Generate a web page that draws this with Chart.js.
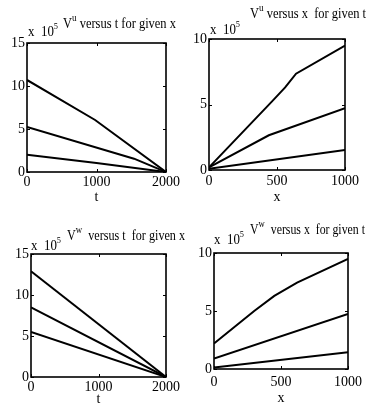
<!DOCTYPE html>
<html>
<head>
<meta charset="utf-8">
<script src="https://cdn.jsdelivr.net/npm/chart.js"></script>
<style>
  body { margin: 0; background: #fff; width: 367px; height: 412px; position: relative; overflow: hidden; font-family: "Liberation Serif", serif; }
  canvas { position: absolute; }
  .lbl { position: absolute; white-space: nowrap; color: #000; line-height: 1; transform-origin: 0 0; }
  .ttl { font-size: 15px; }
  .mul { font-size: 14px; }
  sup { font-size: 11px; vertical-align: 0; position: relative; top: -7px; }
  .mul sup { font-size: 9px; top: -7px; }
</style>
</head>
<body>
<canvas id="c1"></canvas>
<canvas id="c2"></canvas>
<canvas id="c3"></canvas>
<canvas id="c4"></canvas>

<div class="lbl ttl" data-w="113" style="left:63px;top:16px">V<sup>u</sup> versus t for given x</div>
<div class="lbl mul" data-w="30" style="left:28px;top:25px">x&nbsp; 10<sup>5</sup></div>
<div class="lbl ttl" data-w="116" style="left:250px;top:6px">V<sup>u</sup> versus x&nbsp; for given t</div>
<div class="lbl mul" data-w="30" style="left:210px;top:23px">x&nbsp; 10<sup>5</sup></div>
<div class="lbl ttl" data-w="118" style="left:67px;top:228px">V<sup>w</sup>&nbsp; versus t&nbsp; for given x</div>
<div class="lbl mul" data-w="30" style="left:31px;top:239px">x&nbsp; 10<sup>5</sup></div>
<div class="lbl ttl" data-w="115" style="left:250px;top:222px">V<sup>w</sup>&nbsp; versus x&nbsp; for given t</div>
<div class="lbl mul" data-w="30" style="left:214px;top:233px">x&nbsp; 10<sup>5</sup></div>

<script>
// V^u versus t for given x  (values x 10^5)
const uT_t1 = [0, 980, 2000];
const uT_v1 = [10.7, 6.05, 0];
const uT_t2 = [0, 1540, 2000];
const uT_v2 = [5.25, 1.55, 0];
const uT_t3 = [0, 1000, 2000];
const uT_v3 = [2.0, 1.05, 0];

// V^u versus x for given t
const uX_x1 = [0, 460, 560, 640, 1000];
const uX_v1 = [0.2, 5.2, 6.3, 7.35, 9.5];
const uX_x2 = [0, 440, 1000];
const uX_v2 = [0.2, 2.65, 4.72];
const uX_x3 = [0, 1000];
const uX_v3 = [0.1, 1.52];

// V^w versus t for given x
const wT_t = [0, 2000];
const wT_v1 = [12.9, 0];
const wT_v2 = [8.5, 0];
const wT_v3 = [5.5, 0];

// V^w versus x for given t
const wX_x1 = [0, 150, 300, 450, 620, 1000];
const wX_v1 = [2.2, 3.6, 5.0, 6.3, 7.45, 9.5];
const wX_x2 = [0, 1000];
const wX_v2 = [0.9, 4.75];
const wX_x3 = [0, 1000];
const wX_v3 = [0.12, 1.45];

// tick values
const tTicks = [0, 1000, 2000];
const xTicks = [0, 500, 1000];
const y15Ticks = [0, 5, 10, 15];
const y10Ticks = [0, 5, 10];

const pts = (xs, ys) => xs.map((v, i) => ({ x: v, y: ys[i] }));

const frame = {
  id: "frame",
  afterDatasetsDraw(chart) {
    const { ctx, chartArea: a, scales: { x, y } } = chart;
    ctx.save();
    ctx.strokeStyle = "#000";
    ctx.lineWidth = 1;
    ctx.beginPath();
    x.ticks.forEach(t => {
      const px = Math.round(x.getPixelForValue(t.value)) + 0.5;
      ctx.moveTo(px, a.bottom); ctx.lineTo(px, a.bottom - 3);
      ctx.moveTo(px, a.top); ctx.lineTo(px, a.top + 3);
    });
    y.ticks.forEach(t => {
      const py = Math.round(y.getPixelForValue(t.value)) + 0.5;
      ctx.moveTo(a.left, py); ctx.lineTo(a.left + 3, py);
      ctx.moveTo(a.right, py); ctx.lineTo(a.right - 3, py);
    });
    ctx.stroke();
    ctx.lineWidth = 1.6;
    ctx.strokeRect(a.left, a.top, a.right - a.left, a.bottom - a.top);
    ctx.restore();
  }
};

const tickFont = { family: "Liberation Serif", size: 14 };

function panel(id, box, area, opt) {
  const cv = document.getElementById(id);
  cv.width = box.w; cv.height = box.h;
  cv.style.left = box.l + "px"; cv.style.top = box.t + "px";
  const YW = opt.yw, XH = opt.xh;
  new Chart(cv, {
    type: "line",
    data: {
      datasets: opt.series.map(s => ({
        data: s,
        borderColor: "#000",
        borderWidth: 2,
        pointRadius: 0,
        fill: false,
        tension: 0
      }))
    },
    options: {
      responsive: false,
      animation: false,
      devicePixelRatio: 1,
      layout: {
        padding: {
          left: area.l - box.l - YW,
          top: area.t - box.t,
          right: box.l + box.w - area.r,
          bottom: box.t + box.h - area.b - XH
        }
      },
      plugins: { legend: { display: false }, tooltip: { enabled: false } },
      scales: {
        x: {
          type: "linear",
          min: 0, max: opt.xTicks[opt.xTicks.length - 1],
          afterFit: s => { s.height = XH; },
          afterBuildTicks: s => { s.ticks = opt.xTicks.map(v => ({ value: v })); },
          grid: { display: false, drawTicks: false },
          border: { display: false },
          ticks: { color: "#000", padding: opt.xpad, maxRotation: 0, font: tickFont, callback: v => String(v) },
          title: {
            display: true, text: opt.xTitle, color: "#000",
            padding: { top: 0, bottom: XH - 8.4 - opt.titleOff },
            font: { family: "Liberation Serif", size: 14 }
          }
        },
        y: {
          type: "linear",
          min: 0, max: opt.yTicks[opt.yTicks.length - 1],
          afterFit: s => { s.width = YW; },
          afterBuildTicks: s => { s.ticks = opt.yTicks.map(v => ({ value: v })); },
          grid: { display: false, drawTicks: false },
          border: { display: false },
          ticks: { color: "#000", padding: 2, font: tickFont, callback: v => String(v) }
        }
      }
    },
    plugins: [frame]
  });
}

panel("c1", { l: 0, t: 20, w: 185, h: 190 }, { l: 27, t: 43, r: 166, b: 172 }, {
  yw: 27, xh: 34, xpad: 2, titleOff: 25, xTitle: "t",
  xTicks: tTicks, yTicks: y15Ticks,
  series: [pts(uT_t1, uT_v1), pts(uT_t2, uT_v2), pts(uT_t3, uT_v3)]
});
panel("c2", { l: 183, t: 20, w: 184, h: 190 }, { l: 209, t: 39, r: 345, b: 170 }, {
  yw: 26, xh: 34, xpad: 3, titleOff: 27, xTitle: "x",
  xTicks: xTicks, yTicks: y10Ticks,
  series: [pts(uX_x1, uX_v1), pts(uX_x2, uX_v2), pts(uX_x3, uX_v3)]
});
panel("c3", { l: 0, t: 230, w: 185, h: 182 }, { l: 31, t: 254, r: 166, b: 377 }, {
  yw: 31, xh: 34, xpad: 2, titleOff: 22, xTitle: "t",
  xTicks: tTicks, yTicks: y15Ticks,
  series: [pts(wT_t, wT_v1), pts(wT_t, wT_v2), pts(wT_t, wT_v3)]
});
panel("c4", { l: 185, t: 230, w: 182, h: 182 }, { l: 214, t: 253, r: 349, b: 369 }, {
  yw: 29, xh: 38, xpad: 5, titleOff: 29, xTitle: "x",
  xTicks: xTicks, yTicks: y10Ticks,
  series: [pts(wX_x1, wX_v1), pts(wX_x2, wX_v2), pts(wX_x3, wX_v3)]
});

// squeeze the heading texts to the narrow widths of the original
document.querySelectorAll(".lbl").forEach(el => {
  const w = el.getBoundingClientRect().width;
  el.style.transform = `scaleX(${(+el.dataset.w / w).toFixed(3)})`;
});
</script>
</body>
</html>
